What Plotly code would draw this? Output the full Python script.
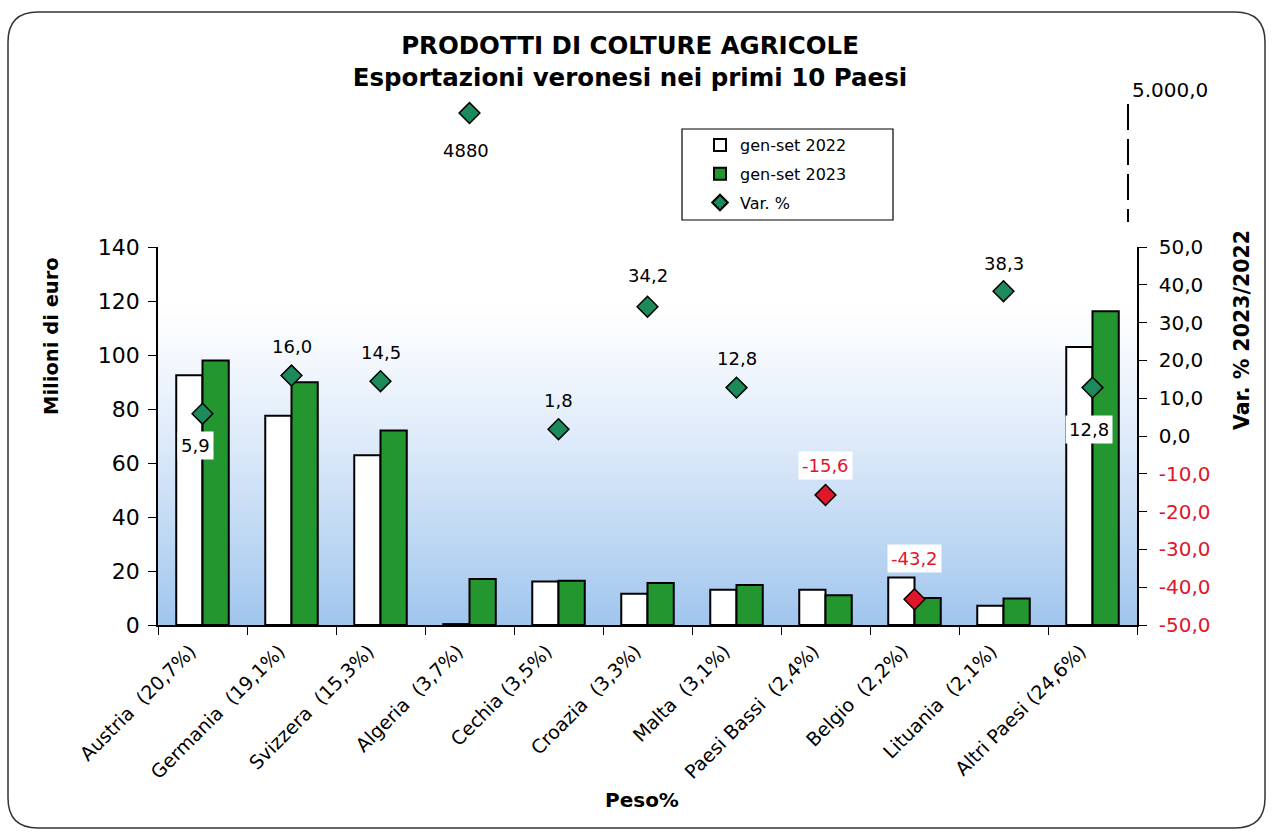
import plotly.graph_objects as go

# ---------------- data ----------------
categories = ["Austria\u00a0\u00a0(20,7%)", "Germania\u00a0\u00a0(19,1%)", "Svizzera\u00a0\u00a0(15,3%)",
              "Algeria\u00a0\u00a0(3,7%)", "Cechia (3,5%)", "Croazia\u00a0\u00a0(3,3%)",
              "Malta\u00a0\u00a0(3,1%)", "Paesi Bassi\u00a0\u00a0(2,4%)", "Belgio\u00a0\u00a0(2,2%)",
              "Lituania\u00a0\u00a0(2,1%)", "Altri Paesi (24,6%)"]
exp_2022 = [92.5, 77.5, 62.9, 0.34, 16.1, 11.6, 13.1, 13.1, 17.6, 7.1, 103.0]
exp_2023 = [98.0, 89.9, 72.0, 17.0, 16.4, 15.6, 14.8, 11.0, 10.0, 9.8, 116.2]
var_pct = [5.9, 16.0, 14.5, 4880, 1.8, 34.2, 12.8, -15.6, -43.2, 38.3, 12.8]
right_ticks = [-50, -40, -30, -20, -10, 0, 10, 20, 30, 40, 50]

# ---------------- styling ----------------
FONT = "DejaVu Sans"
GREEN_BAR = "#23962f"
GREEN_D = "#1d8a5c"
RED = "#e0162b"
RED_TXT = "#e0162b"

W, H = 1272, 832
L, R, T, B = 158, 1137, 90, 625  # plot area in px


def px(x):
    return (x - L) / (R - L)


def py(y):
    return (B - y) / (B - T)


main_top = py(247)
split = 50
var_main = [v if v <= split else None for v in var_pct]
var_out = [v if v > split else None for v in var_pct]


def fmt(v):
    if abs(v) >= 1000:
        return f"{v:.0f}"
    return f"{v:.1f}".replace(".", ",")


fig = go.Figure()
fig.add_trace(go.Bar(x=categories, y=exp_2022, name="gen-set 2022", legendgroup="a",
                     marker=dict(color="white", line=dict(color="black", width=2))))
fig.add_trace(go.Bar(x=categories, y=exp_2023, name="gen-set 2023", legendgroup="b",
                     marker=dict(color=GREEN_BAR, line=dict(color="black", width=2))))
fig.add_trace(go.Scatter(x=categories, y=var_main, yaxis="y2", mode="markers", name="Var. %", legendgroup="c",
                         marker=dict(symbol="diamond", size=16,
                                     color=[RED if (v is not None and v < 0) else GREEN_D for v in var_main],
                                     line=dict(color="black", width=1.5))))
fig.add_trace(go.Scatter(x=categories, y=var_out, yaxis="y3", mode="markers", showlegend=False,
                         marker=dict(symbol="diamond", size=16, color=GREEN_D,
                                     line=dict(color="black", width=1.5))))

# data labels (offsets are styling)
label_shift = [(-7, -32), (0, 29), (0, 29), (-4, -37), (0, 29), (0, 31), (0, 29), (0, 29), (0, 41), (0, 28), (-4, -42)]
label_bg = [True, False, False, False, False, False, False, True, True, False, True]
annotations = []
for i, v in enumerate(var_pct):
    yref = "y3" if v > split else "y2"
    annotations.append(dict(x=categories[i], y=v, xref="x", yref=yref, text=fmt(v), showarrow=False,
                            xshift=label_shift[i][0], yshift=label_shift[i][1],
                            xanchor="center", yanchor="middle",
                            font=dict(family=FONT, size=18, color=RED_TXT if v < 0 else "black"),
                            bgcolor="white" if label_bg[i] else "rgba(0,0,0,0)", borderpad=3))

# axis titles
annotations.append(dict(x=px(51), y=py(336), xref="paper", yref="paper", text="<b>Milioni di euro</b>",
                        textangle=-90, showarrow=False, xanchor="center", yanchor="middle",
                        font=dict(family=FONT, size=19.5, color="black")))
annotations.append(dict(x=px(1242), y=py(330), xref="paper", yref="paper", text="<b>Var. % 2023/2022</b>",
                        textangle=-90, showarrow=False, xanchor="center", yanchor="middle",
                        font=dict(family=FONT, size=20.5, color="black")))
annotations.append(dict(x=px(642), y=py(800), xref="paper", yref="paper", text="<b>Peso%</b>",
                        showarrow=False, xanchor="center", yanchor="middle",
                        font=dict(family=FONT, size=20, color="black")))

# gradient background shapes
shapes = []
N = 60
top_c = (255, 255, 255)
bot_c = (160, 197, 238)
for k in range(N):
    y0 = k / N
    y1 = (k + 1) / N
    t = 1 - (y0 + y1) / 2  # 0 at top, 1 at bottom
    w = max(0.0, (t - 0.15) / 0.85) ** 1.2
    c = tuple(int(round(top_c[j] + (bot_c[j] - top_c[j]) * w)) for j in range(3))
    shapes.append(dict(type="rect", xref="x domain", yref="y domain", x0=0, x1=1, y0=y0, y1=y1 + 0.002,
                       fillcolor=f"rgb{c}", line=dict(width=0), layer="below"))

# dashed broken-axis line
shapes.append(dict(type="line", xref="paper", yref="paper", x0=px(1128), x1=px(1128), y0=py(104), y1=py(222),
                   line=dict(color="black", width=2, dash="26px,9px")))

# legend frame
shapes.append(dict(type="rect", xref="paper", yref="paper", x0=px(682), x1=px(893), y0=py(129), y1=py(220),
                   fillcolor="white", line=dict(color="black", width=1.2), layer="above"))

# rounded page border
x0b, x1b, y0b, y1b, r = 8, 1265, 12, 828, 30
path = (f"M {px(x0b + r)},{py(y0b)} L {px(x1b - r)},{py(y0b)} Q {px(x1b)},{py(y0b)} {px(x1b)},{py(y0b + r)} "
        f"L {px(x1b)},{py(y1b - r)} Q {px(x1b)},{py(y1b)} {px(x1b - r)},{py(y1b)} "
        f"L {px(x0b + r)},{py(y1b)} Q {px(x0b)},{py(y1b)} {px(x0b)},{py(y1b - r)} "
        f"L {px(x0b)},{py(y0b + r)} Q {px(x0b)},{py(y0b)} {px(x0b + r)},{py(y0b)} Z")
shapes.append(dict(type="path", xref="paper", yref="paper", path=path,
                   line=dict(color="#333333", width=1.5)))

ticktext2 = [(f"<span style='color:{RED_TXT}'>{fmt(t)}</span>" if t < 0 else fmt(t)) for t in right_ticks]

fig.update_layout(
    width=W, height=H,
    margin=dict(l=L, r=W - R, t=T, b=H - B, autoexpand=False),
    paper_bgcolor="white", plot_bgcolor="rgba(0,0,0,0)",
    separators=",.",
    font=dict(family=FONT, color="black"),
    title=dict(text="<b>PRODOTTI DI COLTURE AGRICOLE</b><br><b>Esportazioni veronesi nei primi 10 Paesi</b>",
               x=(630 / W), xref="container", xanchor="center", y=1 - 54 / H, yanchor="middle",
               font=dict(family=FONT, size=24.5, color="black")),
    barmode="group", bargap=0.41, bargroupgap=0,
    xaxis=dict(range=[-0.5, len(categories) - 0.5], showline=True, linecolor="black", linewidth=1.5,
               ticks="outside", ticklen=8, tickcolor="black",
               tickson="boundaries", tickangle=-45, showgrid=False, automargin=False,
               ticklabelshift=-12, ticklabelstandoff=6,
               tickfont=dict(family=FONT, size=19)),
    yaxis=dict(domain=[0, main_top], range=[0, 140], dtick=20, showline=True, linecolor="black", linewidth=1.5,
               ticks="outside", ticklen=8, tickcolor="black", showgrid=False, zeroline=False, automargin=False,
               ticklabelstandoff=4, tickfont=dict(family=FONT, size=22)),
    yaxis2=dict(overlaying="y", side="right", range=[-50, 50], tickvals=right_ticks, ticktext=ticktext2,
                showline=True, linecolor="black", linewidth=1.5, ticks="outside", ticklen=8, tickcolor="black",
                showgrid=False, zeroline=False, automargin=False, ticklabelstandoff=8,
                tickfont=dict(family=FONT, size=20)),
    yaxis3=dict(domain=[py(215), 1.0], anchor="x", side="right", range=[4350, 5000], tickvals=[5000],
                tickformat=",.1f", showline=False, ticks="", showgrid=False, zeroline=False, automargin=False,
                ticklabelstandoff=-6, tickfont=dict(family=FONT, size=20)),
    legend=dict(x=px(700), y=py(128), xanchor="left", yanchor="top", bgcolor="rgba(0,0,0,0)",
                borderwidth=0, font=dict(family=FONT, size=16), itemwidth=30, itemsizing="constant",
                tracegroupgap=5),
    annotations=annotations,
    shapes=shapes,
    showlegend=True,
)

fig.write_html("out.html", config={"displayModeBar": False},
               post_script="document.body.style.margin='0';document.body.style.overflow='hidden';")
